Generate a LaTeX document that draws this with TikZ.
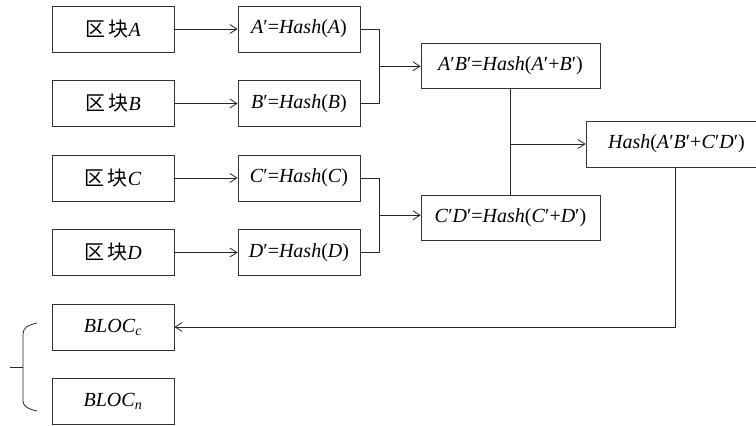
\documentclass[tikz,border=0pt]{standalone}
\usepackage{fontspec}
\setmainfont{Liberation Serif}
\newfontfamily\cjk{Noto Sans CJK SC}
\usetikzlibrary{arrows.meta,calc}

% italic variable names
\newcommand{\vn}[1]{\textit{#1}}
\newcommand{\blk}[1]{{\cjk 区\,块}\vn{#1}}

\begin{document}
\begin{tikzpicture}[x=1pt,y=-1pt,
  line width=0.8pt, draw=black!85,
  box/.style={draw=black!80, line width=0.8pt, minimum width=122pt, minimum height=46pt,
    inner sep=0pt, font=\fontsize{20}{24}\selectfont},
  widebox/.style={box, minimum width=179pt, minimum height=45pt},
  link/.style={-{Straight Barb[length=7pt,width=9pt]}}]
\useasboundingbox (0,0) rectangle (756,426);

% data blocks
\node[box] (ba) at (113,29)    {\blk{A}};
\node[box] (bb) at (113,103.5) {\blk{B}};
\node[box] (bc) at (113,178)   {\blk{C}};
\node[box] (bd) at (113,252.5) {\blk{D}};

% first-level hashes
\node[box] (ha) at (299,29)    {\vn{A}′=\vn{Hash}(\vn{A})};
\node[box] (hb) at (299,103.5) {\vn{B}′=\vn{Hash}(\vn{B})};
\node[box] (hc) at (299,178)   {\vn{C}′=\vn{Hash}(\vn{C})};
\node[box] (hd) at (299,252.5) {\vn{D}′=\vn{Hash}(\vn{D})};

% second-level hashes
\node[widebox] (hab) at (510.5,65.5) {\vn{A}′\vn{B}′=\vn{Hash}(\vn{A}′+\vn{B}′)};
\node[widebox] (hcd) at (510.5,218)  {\vn{C}′\vn{D}′=\vn{Hash}(\vn{C}′+\vn{D}′)};

% root hash
\node[box, minimum width=181pt] (root) at (676.5,144) {\vn{Hash}(\vn{A}′\vn{B}′+\vn{C}′\vn{D}′)};

% block records
\node[box] (blocc) at (113,327) {\vn{BLOC}\textsubscript{\vn{c}}};
\node[box] (blocn) at (113,401) {\vn{BLOC}\textsubscript{\vn{n}}};

% blocks to first-level hashes
\foreach \s/\t in {ba/ha, bb/hb, bc/hc, bd/hd}
  \draw[link] (\s.east) -- (\t.west);

% pairwise merges
\draw (ha.east) -- ++(19,0) |- (hb.east);
\draw (hc.east) -- ++(19,0) |- (hd.east);
\coordinate (jab) at ($(ha.east)!0.5!(hb.east)+(19,0)$);
\coordinate (jcd) at ($(hc.east)!0.5!(hd.east)+(19,0)$);
\draw[link] (jab) -- (jab -| hab.west);
\draw[link] (jcd) -- (jcd -| hcd.west);

% merge of the two second-level hashes
\draw (hab.south) -- (hcd.south |- hcd.north);
\coordinate (jroot) at (hab.south |- root.west);
\draw[link] (jroot) -- (root.west);

% root written back to the current block
\draw[link] ([xshift=-1.5pt]root.south) |- (blocc.east);

% brace grouping the block records
\draw (37,323) .. controls (28,325) and (23,328) .. (23,334)
  -- (23,401) .. controls (23,406) and (28,409) .. (37,411);
\draw (10,367) -- (23,367);
\end{tikzpicture}
\end{document}
